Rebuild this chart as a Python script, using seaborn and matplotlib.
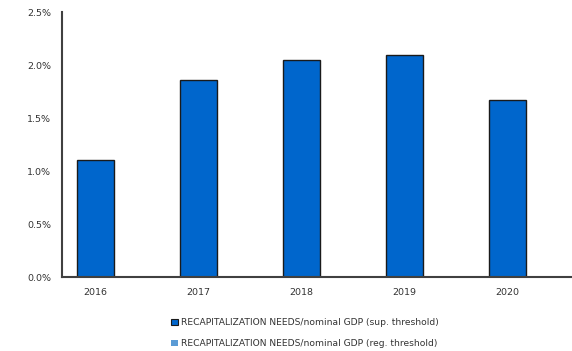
import matplotlib
matplotlib.use("Agg")
import matplotlib.pyplot as plt
from matplotlib.patches import Patch
from matplotlib.ticker import PercentFormatter
import seaborn as sns
import pandas as pd

years = ["2016", "2017", "2018", "2019", "2020"]
recap_sup = [1.10, 1.86, 2.05, 2.09, 1.67]
label_sup = "RECAPITALIZATION NEEDS/nominal GDP (sup. threshold)"
label_reg = "RECAPITALIZATION NEEDS/nominal GDP (reg. threshold)"
yticks = [0.0, 0.5, 1.0, 1.5, 2.0, 2.5]

sns.set_style("white")
plt.rcParams["font.family"] = ["DejaVu Sans"]

df = pd.DataFrame({"year": years, "value": recap_sup})

fig = plt.figure(figsize=(5.72, 3.51), dpi=100)
ax = fig.add_axes([0.1084, 0.2108, 0.8896, 0.755])

sns.barplot(data=df, x="year", y="value", color="#0066CC", saturation=1,
            width=0.36, edgecolor="#1a1a1a", linewidth=1.0, ax=ax)

ax.set_xlim(-0.325, 4.62)
ax.set_ylim(0, 2.5)
ax.set_yticks(yticks)
ax.yaxis.set_major_formatter(PercentFormatter(100, decimals=1))
ax.set_xlabel("")
ax.set_ylabel("")
for side in ("top", "right"):
    ax.spines[side].set_visible(False)
for side in ("left", "bottom"):
    ax.spines[side].set_color("#404040")
    ax.spines[side].set_linewidth(1.5)
ax.tick_params(axis="both", length=0, labelsize=6.8, colors="#333333")
ax.tick_params(axis="y", pad=8)
ax.tick_params(axis="x", pad=8)

handles = [Patch(facecolor="#0066CC", edgecolor="#1a1a1a", linewidth=0.8),
           Patch(facecolor="#5B9BD5", edgecolor="none")]
fig.legend(handles, [label_sup, label_reg], loc="lower left",
           bbox_to_anchor=(0.285, -0.016), frameon=False, fontsize=6.6,
           handlelength=0.7, handleheight=0.7, handletextpad=0.35,
           labelspacing=1.3, labelcolor="#333333")

fig.savefig("out.png", dpi=100)
